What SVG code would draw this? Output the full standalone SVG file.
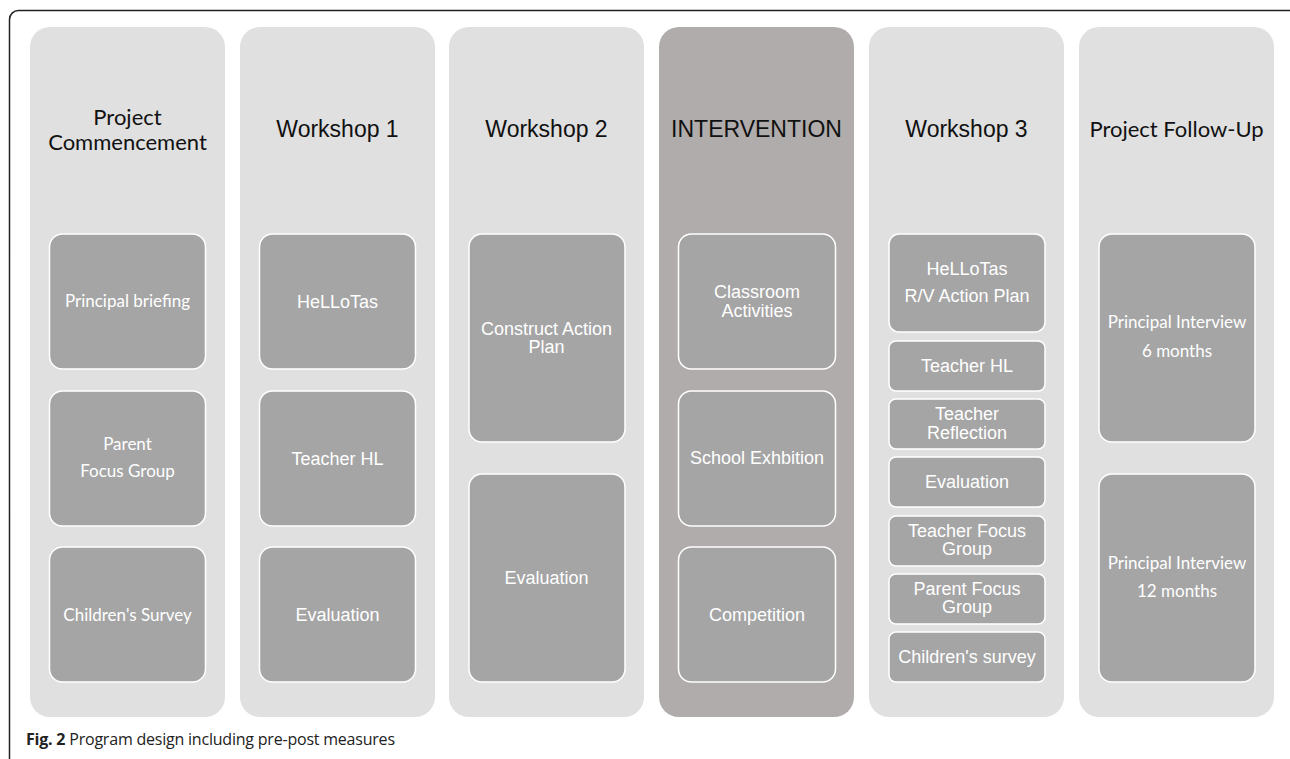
<svg xmlns="http://www.w3.org/2000/svg" width="1290" height="759" viewBox="0 0 1290 759">
<style>
.col{fill:#e0e0e0}
.colI{fill:#b0acab}
.box{fill:#a5a5a5;stroke:#ffffff;stroke-width:1.5}
.tA{font-family:"Liberation Sans",Arial,sans-serif;font-size:23px;fill:#111;text-anchor:middle}
.tC{font-family:Lato,"Open Sans",sans-serif;font-size:22px;fill:#111;text-anchor:middle}
.bA{font-family:"Liberation Sans",Arial,sans-serif;font-size:18px;fill:#fff;text-anchor:middle}
.bC{font-family:Lato,"Open Sans",sans-serif;font-size:17px;fill:#fff;text-anchor:middle}
.cap{font-family:"Open Sans","Noto Sans",sans-serif;font-size:16px;fill:#222}
</style>
<rect x="9.5" y="10.5" width="1300" height="760" rx="9" fill="none" stroke="#222" stroke-width="1.5"/>

<g id="col-project-commencement">
<rect class="col" x="30" y="27" width="195" height="690" rx="20"/>
<text class="tC" x="127.5" y="125">Project</text>
<text class="tC" x="127.5" y="150">Commencement</text>
<rect class="box" x="49.5" y="234" width="156" height="135" rx="13"/>
<text class="bC" x="127.5" y="307">Principal briefing</text>
<rect class="box" x="49.5" y="391" width="156" height="135" rx="13"/>
<text class="bC" x="127.5" y="450">Parent</text>
<text class="bC" x="127.5" y="477">Focus Group</text>
<rect class="box" x="49.5" y="547" width="156" height="135" rx="13"/>
<text class="bC" x="127.5" y="621">Children's Survey</text>
</g>

<g id="col-workshop-1">
<rect class="col" x="240" y="27" width="195" height="690" rx="20"/>
<text class="tA" x="337.5" y="137">Workshop 1</text>
<rect class="box" x="259.5" y="234" width="156" height="135" rx="13"/>
<text class="bA" x="337.5" y="308">HeLLoTas</text>
<rect class="box" x="259.5" y="391" width="156" height="135" rx="13"/>
<text class="bA" x="337.5" y="465">Teacher HL</text>
<rect class="box" x="259.5" y="547" width="156" height="135" rx="13"/>
<text class="bA" x="337.5" y="621">Evaluation</text>
</g>

<g id="col-workshop-2">
<rect class="col" x="449" y="27" width="195" height="690" rx="20"/>
<text class="tA" x="546.5" y="137">Workshop 2</text>
<rect class="box" x="469" y="234" width="156" height="208" rx="13"/>
<text class="bA" x="546.5" y="335">Construct Action</text>
<text class="bA" x="546.5" y="353">Plan</text>
<rect class="box" x="469" y="474" width="156" height="208" rx="13"/>
<text class="bA" x="546.5" y="584">Evaluation</text>
</g>

<g id="col-intervention">
<rect class="colI" x="659" y="27" width="195" height="690" rx="20"/>
<text class="tA" x="756.5" y="137">INTERVENTION</text>
<rect class="box" x="678.5" y="234" width="157" height="135" rx="13"/>
<text class="bA" x="757" y="298">Classroom</text>
<text class="bA" x="757" y="317">Activities</text>
<rect class="box" x="678.5" y="391" width="157" height="135" rx="13"/>
<text class="bA" x="757" y="464">School Exhbition</text>
<rect class="box" x="678.5" y="547" width="157" height="135" rx="13"/>
<text class="bA" x="757" y="621">Competition</text>
</g>

<g id="col-workshop-3">
<rect class="col" x="869" y="27" width="195" height="690" rx="20"/>
<text class="tA" x="966.5" y="137">Workshop 3</text>
<rect class="box" x="889" y="234" width="156" height="98" rx="10"/>
<text class="bA" x="967" y="275">HeLLoTas</text>
<text class="bA" x="967" y="302">R/V Action Plan</text>
<rect class="box" x="889" y="341" width="156" height="50" rx="7"/>
<text class="bA" x="967" y="372">Teacher HL</text>
<rect class="box" x="889" y="399" width="156" height="50" rx="7"/>
<text class="bA" x="967" y="420">Teacher</text>
<text class="bA" x="967" y="439">Reflection</text>
<rect class="box" x="889" y="457" width="156" height="50" rx="7"/>
<text class="bA" x="967" y="488">Evaluation</text>
<rect class="box" x="889" y="516" width="156" height="50" rx="7"/>
<text class="bA" x="967" y="537">Teacher Focus</text>
<text class="bA" x="967" y="555">Group</text>
<rect class="box" x="889" y="574" width="156" height="50" rx="7"/>
<text class="bA" x="967" y="595">Parent Focus</text>
<text class="bA" x="967" y="613">Group</text>
<rect class="box" x="889" y="632" width="156" height="50" rx="7"/>
<text class="bA" x="967" y="663">Children's survey</text>
</g>

<g id="col-project-follow-up">
<rect class="col" x="1079" y="27" width="195" height="690" rx="20"/>
<text class="tC" x="1176.5" y="137">Project Follow-Up</text>
<rect class="box" x="1099" y="234" width="156" height="208" rx="13"/>
<text class="bC" x="1177" y="328">Principal Interview</text>
<text class="bC" x="1177" y="357">6 months</text>
<rect class="box" x="1099" y="474" width="156" height="208" rx="13"/>
<text class="bC" x="1177" y="569">Principal Interview</text>
<text class="bC" x="1177" y="597">12 months</text>
</g>

<g id="connectors"></g>

<text class="cap" x="26" y="745" textLength="369" lengthAdjust="spacing"><tspan font-weight="bold">Fig. 2</tspan> Program design including pre-post measures</text>
</svg>
